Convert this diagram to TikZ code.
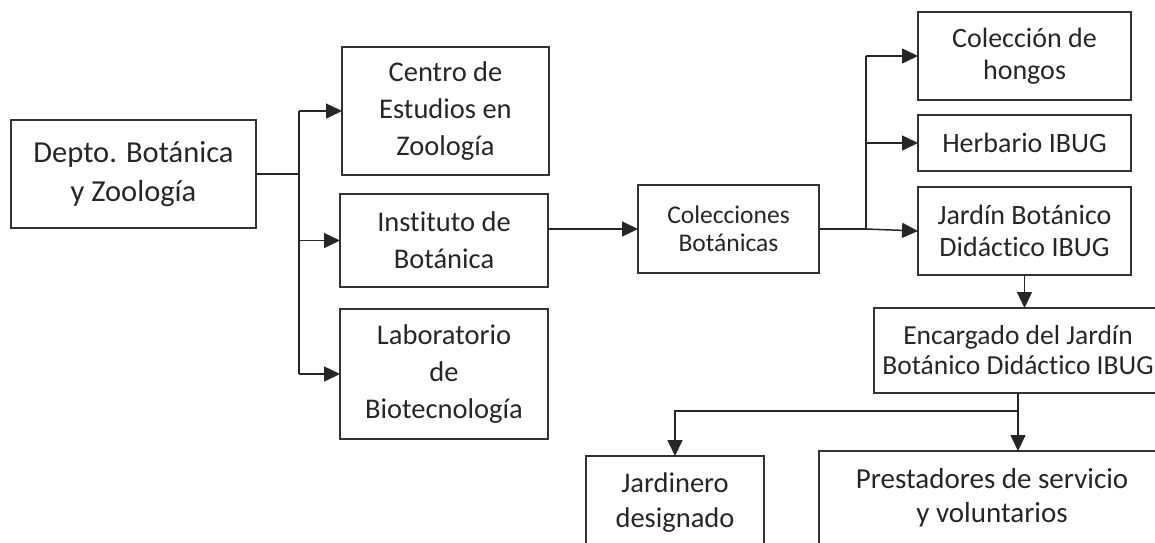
\documentclass[tikz,border=0pt]{standalone}
\usepackage{fontspec}
\setmainfont{Carlito}[Ligatures=NoCommon]
\usetikzlibrary{arrows.meta}
\tikzset{
  box/.style = {draw=black!80, line width=1.8pt, align=center,
                inner sep=0pt, outer sep=0pt, text=black!85},
  link/.style = {draw=black!85, line width=1.5pt},
  arr/.style = {link, -{Triangle[length=16pt,width=15pt]}}
}

\begin{document}
\begin{tikzpicture}[x=1pt, y=-1pt]
	\def \big{\fontsize{30.5}{39}\selectfont}
	\def \mid{\fontsize{28.5}{37}\selectfont}
	\def \sml{\fontsize{25.5}{28}\selectfont}
	\def \rgt{\fontsize{28}{32}\selectfont}
	
	\useasboundingbox (0,0) rectangle (1155,542);
	\clip (0,0) rectangle (1155,542);
	
	% Left column
	\node[box, font=\big, minimum width=245pt, minimum height=108pt] (depto) at (133.5,174) {Depto. Botánica\\y Zoología};
	\node[box, font=\mid, minimum width=207pt, minimum height=128pt] (centro) at (445.5,111) {Centro de\\Estudios en\\Zoología};
	\node[box, font=\mid, minimum width=208pt, minimum height=93pt] (instituto) at (444,240.5) {Instituto de\\Botánica};
	\node[box, font=\mid, minimum width=208pt, minimum height=130pt] (lab) at (444,374) {Laboratorio\\de\\Biotecnología};
	
	% Middle
	\node[box, font=\sml, minimum width=181pt, minimum height=88pt] (colecciones) at (728.5,229) {Colecciones\\Botánicas};
	
	% Right column
	\node[box, font=\rgt, minimum width=213pt, minimum height=88pt] (hongos) at (1024.5,56) {Colección de\\hongos};
	\node[box, font=\rgt, minimum width=213pt, minimum height=56pt] (herbario) at (1024.5,143) {Herbario IBUG};
	\node[box, font=\rgt, minimum width=213pt, minimum height=88pt] (jardin) at (1024.5,231) {Jardín Botánico\\Didáctico IBUG};
	\node[box, font=\fontsize{27.5}{30}\selectfont, minimum width=288pt, minimum height=85pt] (encargado) at (1018,350.5) {Encargado del Jardín\\Botánico Didáctico IBUG};
	
	% Bottom row
	\node[box, font=\fontsize{28.5}{35}\selectfont, minimum width=178pt, minimum height=94pt] (jardinero) at (675,503) {Jardinero\\designado};
	\node[box, font=\fontsize{29}{34}\selectfont, minimum width=346pt, minimum height=94pt] (prestadores) at (992,498) {Prestadores de servicio\\y voluntarios};
	
	% Depto -> three units
	\draw[link] (depto.east) -- ++(43,0) coordinate (fork1);
	\draw[link] (fork1 |- centro.west) -- (fork1 |- lab.west);
	\draw[arr] (fork1 |- centro.west) -- (centro.west);
	\draw[arr] (fork1 |- instituto.east) -- (instituto.west);
	\draw[arr] (fork1 |- lab.west) -- (lab.west);
	
	% Instituto -> Colecciones
	\draw[arr] (instituto.east |- colecciones.west) -- (colecciones.west);
	
	% Colecciones -> collections
	\draw[link] (colecciones.east) -- ++(47,0) coordinate (fork2);
	\draw[link] (fork2) -- (fork2 |- hongos.west);
	\draw[arr] (fork2 |- hongos.west) -- (hongos.west);
	\draw[arr] (fork2 |- herbario.west) -- (herbario.west);
	\draw[arr] (fork2) -- (jardin.west);
	
	% Jardin -> Encargado -> staff
	\draw[arr] (jardin.south) -- (jardin.south |- encargado.north);
	\draw[arr] (encargado.south) -- (encargado.south |- prestadores.north);
	\draw[arr] ([yshift=-18pt]encargado.south) -| (jardinero.north);
	
\end{tikzpicture}
\end{document}
